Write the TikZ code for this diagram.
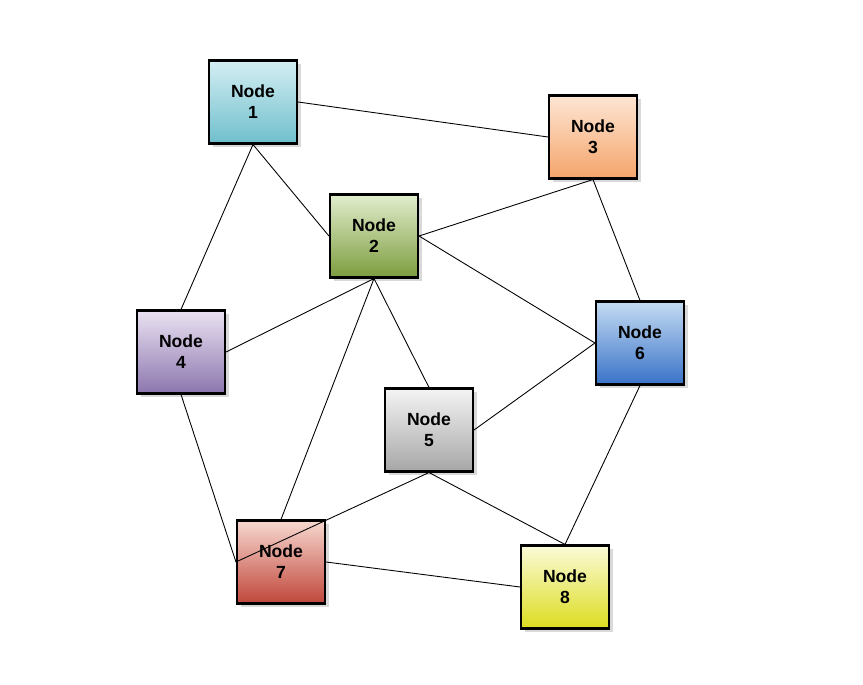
\documentclass[tikz,border=0pt]{standalone}
\usepackage{fontspec}
\setmainfont{Liberation Sans}
\usetikzlibrary{shadows}
\definecolor{b1}{HTML}{6FBFCC}\definecolor{t1}{HTML}{D4EEF3}
\definecolor{b2}{HTML}{7C9D3E}\definecolor{t2}{HTML}{E2EDCD}
\definecolor{b3}{HTML}{F5A46A}\definecolor{t3}{HTML}{FDE6D4}
\definecolor{b4}{HTML}{8C76AE}\definecolor{t4}{HTML}{EAE2F2}
\definecolor{b5}{HTML}{A6A6A6}\definecolor{t5}{HTML}{F4F4F4}
\definecolor{b6}{HTML}{3A72C8}\definecolor{t6}{HTML}{C4DCF2}
\definecolor{b7}{HTML}{C0463A}\definecolor{t7}{HTML}{F7D8D0}
\definecolor{b8}{HTML}{DCDC20}\definecolor{t8}{HTML}{FBFBD8}
\tikzset{nbox/.style={draw=black,line width=1.2pt,minimum width=1.76cm,minimum height=1.66cm,
  align=center,font=\fontsize{10}{12}\selectfont\bfseries,top color=t#1,bottom color=b#1,
  drop shadow={shadow xshift=2pt,shadow yshift=-2pt,opacity=0.3}},
  edge/.style={draw=black,line width=0.5pt}}
\begin{document}
\begin{tikzpicture}[x=0.02cm,y=-0.02cm]
\useasboundingbox (0,0) rectangle (863,685);
\node[nbox=1] (n1) at (253,102) {Node\\1};
\node[nbox=2] (n2) at (374,236) {Node\\2};
\node[nbox=3] (n3) at (593,137) {Node\\3};
\node[nbox=4] (n4) at (181,352) {Node\\4};
\node[nbox=5] (n5) at (429,430) {Node\\5};
\node[nbox=6] (n6) at (640,343) {Node\\6};
\node[nbox=7] (n7) at (281,562) {Node\\7};
\node[nbox=8] (n8) at (565,587) {Node\\8};
\begin{scope}[on background layer/.style={}]
\end{scope}
\path[edge] (n1.east)--(n3.west) (n1.south)--(n2.west) (n1.south)--(n4.north)
 (n2.east)--(n3.south) (n2.south)--(n4.east) (n2.east)--(n6.west) (n2.south)--(n5.north)
 (n2.south)--(n7.north) (n3.south)--(n6.north) (n4.south)--(n7.west) (n5.east)--(n6.west)
 (n5.south)--(n7.west) (n5.south)--(n8.north) (n6.south)--(n8.north) (n7.east)--(n8.west);
\end{tikzpicture}
\end{document}
